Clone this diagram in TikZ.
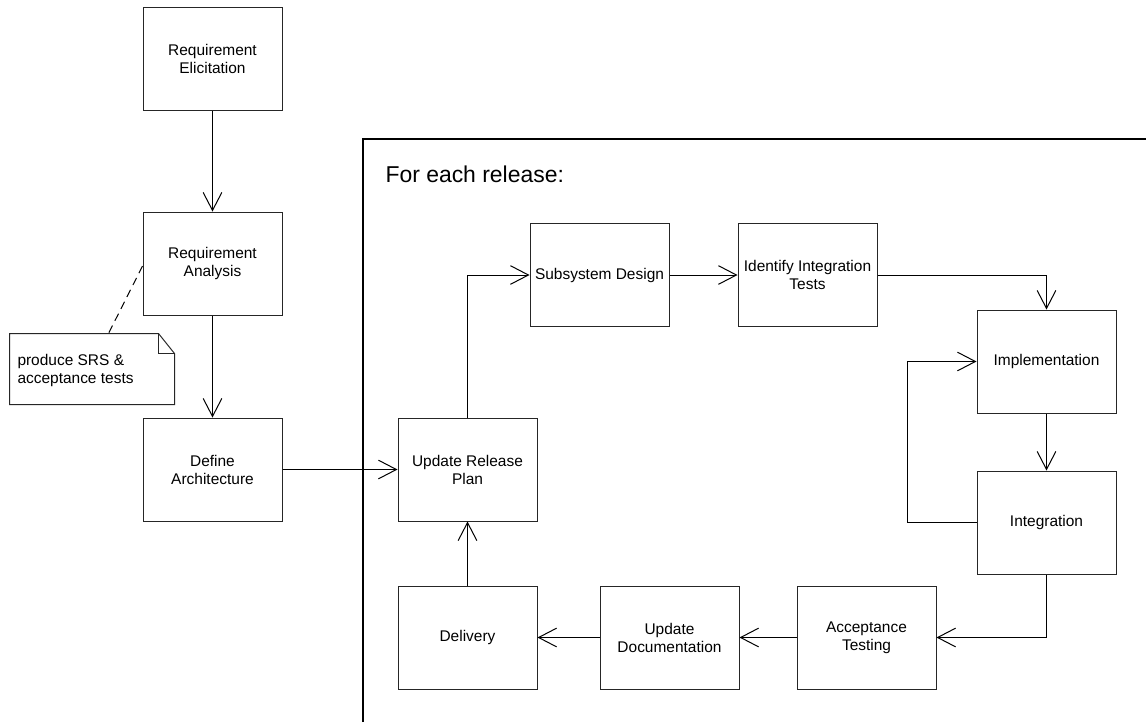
\documentclass[tikz,border=0pt]{standalone}
\usepackage{fontspec}
\setmainfont{Liberation Sans}
\usetikzlibrary{arrows.meta,calc}
\begin{document}
\begin{tikzpicture}[x=0.75pt,y=-0.75pt,
  line width=0.75pt,
  stepbox/.style={draw=black!85, rectangle, inner sep=0pt,
    minimum width=104.25pt, minimum height=77.25pt,
    align=center, font=\fontsize{11.6}{13.5}\selectfont},
  flow/.style={draw=black, -{Straight Barb[length=13.5pt,width=14pt]}},
  notelink/.style={draw=black, dash pattern=on 6pt off 4pt}]
\useasboundingbox (0,0) rectangle (1146,722);

% outer steps
\node[stepbox] (RE) at (212.5,58.5) {Requirement\\Elicitation};
\node[stepbox] (RA) at (212.5,263.5) {Requirement\\Analysis};
\node[stepbox] (DA) at (212.5,469.5) {Define\\Architecture};

% note attached to the analysis step
\node[inner sep=0pt, minimum width=123pt, minimum height=52.5pt] (note) at (92,369) {};
\draw[black!85, fill=white] (note.north west) -- ($(note.north east)+(-16,0)$)
  -- ($(note.north east)+(0,20)$) -- (note.south east) -- (note.south west) -- cycle;
\draw[black!85] ($(note.north east)+(-16,0)$) -- ($(note.north east)+(-16,20)$)
  -- ($(note.north east)+(0,20)$);
\node[anchor=base west, inner sep=0pt, align=left, font=\fontsize{11.6}{13.5}\selectfont]
  (notetext) at (17,383) {produce SRS \&\\acceptance tests};

% release loop frame
\draw[black, line width=0.9pt] (363,722) -- (363,139) -- (1146,139);
\node[anchor=base west, inner sep=0pt, font=\fontsize{17.2}{20}\selectfont]
  (looplabel) at (385,182) {For each release:};

% release loop steps
\node[stepbox] (URP) at (467.5,469.5) {Update Release\\Plan};
\node[stepbox] (SD) at (599.5,275) {Subsystem Design};
\node[stepbox] (IIT) at (807.5,275) {Identify Integration\\Tests};
\node[stepbox] (IMP) at (1046.5,361.5) {Implementation};
\node[stepbox] (INT) at (1046.5,522.5) {Integration};
\node[stepbox] (AT) at (866.5,637.5) {Acceptance\\Testing};
\node[stepbox] (UD) at (669.5,637.5) {Update\\Documentation};
\node[stepbox] (DEL) at (467.5,637.5) {Delivery};

% connectors
\draw[flow] (RE.south) -- (RA.north);
\draw[flow] (RA.south) -- (DA.north);
\draw[notelink] ($(RA.west)+(0,2.5)$) -- ($(note.north west)+(99,0)$);
\draw[flow] (DA.east) -- (URP.west);
\draw[flow] (URP.north) |- (SD.west);
\draw[flow] (SD.east) -- (IIT.west);
\draw[flow] (IIT.east) -| (IMP.north);
\draw[flow] (IMP.south) -- (INT.north);
\draw[flow] (INT.west) -- ++(-69,0) |- (IMP.west);
\draw[flow] (INT.south) |- (AT.east);
\draw[flow] (AT.west) -- (UD.east);
\draw[flow] (UD.west) -- (DEL.east);
\draw[flow] (DEL.north) -- (URP.south);
\end{tikzpicture}
\end{document}
